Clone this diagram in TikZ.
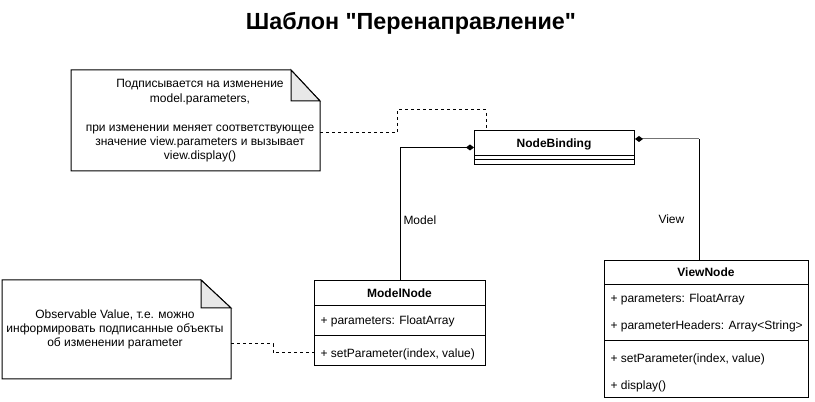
\documentclass[tikz,border=0pt]{standalone}
\usepackage{fontspec}
\setmainfont{Liberation Sans}[Ligatures=TeXOff]
\usetikzlibrary{arrows.meta,calc}
\begin{document}
\begin{tikzpicture}[x=0.75pt,y=-0.75pt,
  font=\fontsize{9}{10.8}\selectfont,
  line width=0.75pt,
  boxw/.style={minimum width=#1*0.75pt},
  boxh/.style={minimum height=#1*0.75pt},
  frame/.style={draw,inner sep=0pt,anchor=north west},
  ghost/.style={inner sep=0pt,anchor=north west},
  row/.style={anchor=base west,inner sep=0pt},
  head/.style={anchor=base,inner sep=0pt,font=\fontsize{9}{10.8}\selectfont\bfseries},
  conn/.style={draw,line width=0.75pt},
  dashconn/.style={draw,line width=0.75pt,dash pattern=on 2.25pt off 2.25pt},
  fold/.style={fill=black!9},
  notetext/.style={align=center,inner sep=0pt}
]
\useasboundingbox (0,0) rectangle (815,402);

% title
\node[anchor=base,inner sep=0pt,font=\fontsize{17.5}{20}\selectfont\bfseries] (title) at (411,29.5) {Шаблон "Перенаправление"};

% note 1
\node[ghost,boxw=248,boxh=100] (n1) at (71,70) {};
\draw[fill=white] (n1.north west) -- ($(n1.north east)+(-29,0)$) -- ($(n1.north east)+(0,31)$) -- (n1.south east) -- (n1.south west) -- cycle;
\draw[fold] ($(n1.north east)+(-29,0)$) -- ($(n1.north east)+(-29,31)$) -- ($(n1.north east)+(0,31)$) -- cycle;
\node[notetext] (n1t) at (200,121) {Подписывается на изменение\\model.parameters,\\[10.8pt]при изменении меняет соответствующее\\значение view.parameters и вызывает\\view.display()};

% note 2
\node[ghost,boxw=228,boxh=98] (n2) at (2,280) {};
\draw[fill=white] (n2.north west) -- ($(n2.north east)+(-30,0)$) -- ($(n2.north east)+(0,28)$) -- (n2.south east) -- (n2.south west) -- cycle;
\draw[fold] ($(n2.north east)+(-30,0)$) -- ($(n2.north east)+(-30,28)$) -- ($(n2.north east)+(0,28)$) -- cycle;
\node[notetext] (n2t) at (115,329.5) {Observable Value, т.е. можно\\информировать подписанные объекты\\об изменении parameter};

% NodeBinding
\node[frame,boxw=160,boxh=34] (nb) at (474,130) {};
\draw (474,156) -- (634,156);
\draw (474,160) -- (634,160);
\node[head] (nbh) at (554,147.5) {NodeBinding};

% ModelNode
\node[frame,boxw=171,boxh=85] (mn) at (314,280) {};
\draw (314,306) -- (485,306);
\draw (314,336) -- (485,336);
\node[head] (mnh) at (399.5,297.5) {ModelNode};
\node[row] (mnattr) at (320,324.5) {+ parameters: FloatArray};
\node[row] (mnop) at (320,357.5) {+ setParameter(index, value)};
\coordinate (mnopw) at (314,353);

% ViewNode
\node[frame,boxw=204,boxh=137] (vn) at (604,260) {};
\draw (604,285) -- (808,285);
\draw (604,341) -- (808,341);
\node[head] (vnh) at (706,277) {ViewNode};
\node[row] (vna1) at (610,303) {+ parameters: FloatArray};
\node[row] (vna2) at (610,330) {+ parameterHeaders: Array<String>};
\node[row] (vno1) at (610,362.5) {+ setParameter(index, value)};
\node[row] (vno2) at (610,389.5) {+ display()};

% connectors
\draw[conn,{Diamond[length=6pt,width=4.5pt]}-] (nb.west) -| (mn.north);
\coordinate (vs) at ($(nb.north east)+(0,9)$);
\coordinate (vbend) at (699,139);
\draw[conn,black!55,{Diamond[length=6pt,width=4.5pt,black]}-] (vs) -- (vbend);
\draw[conn] (vbend) -- (vbend |- vn.north);

\node[row] (lmodel) at (403,225) {Model};
\node[row] (lview) at (658,224) {View};

% dashed note links
\coordinate (d1a) at (397,133);
\coordinate (d1b) at (397,110);
\coordinate (d1c) at (486,110);
\draw[dashconn] (n1.east |- d1a) -- (d1a) -- (d1b) -- (d1c) -- (d1c |- nb.north);
\coordinate (d2a) at (273,344);
\coordinate (d2b) at (273,353);
\draw[dashconn] (n2.east |- d2a) -- (d2a) -- (d2b) -- (mnopw);
\end{tikzpicture}
\end{document}
